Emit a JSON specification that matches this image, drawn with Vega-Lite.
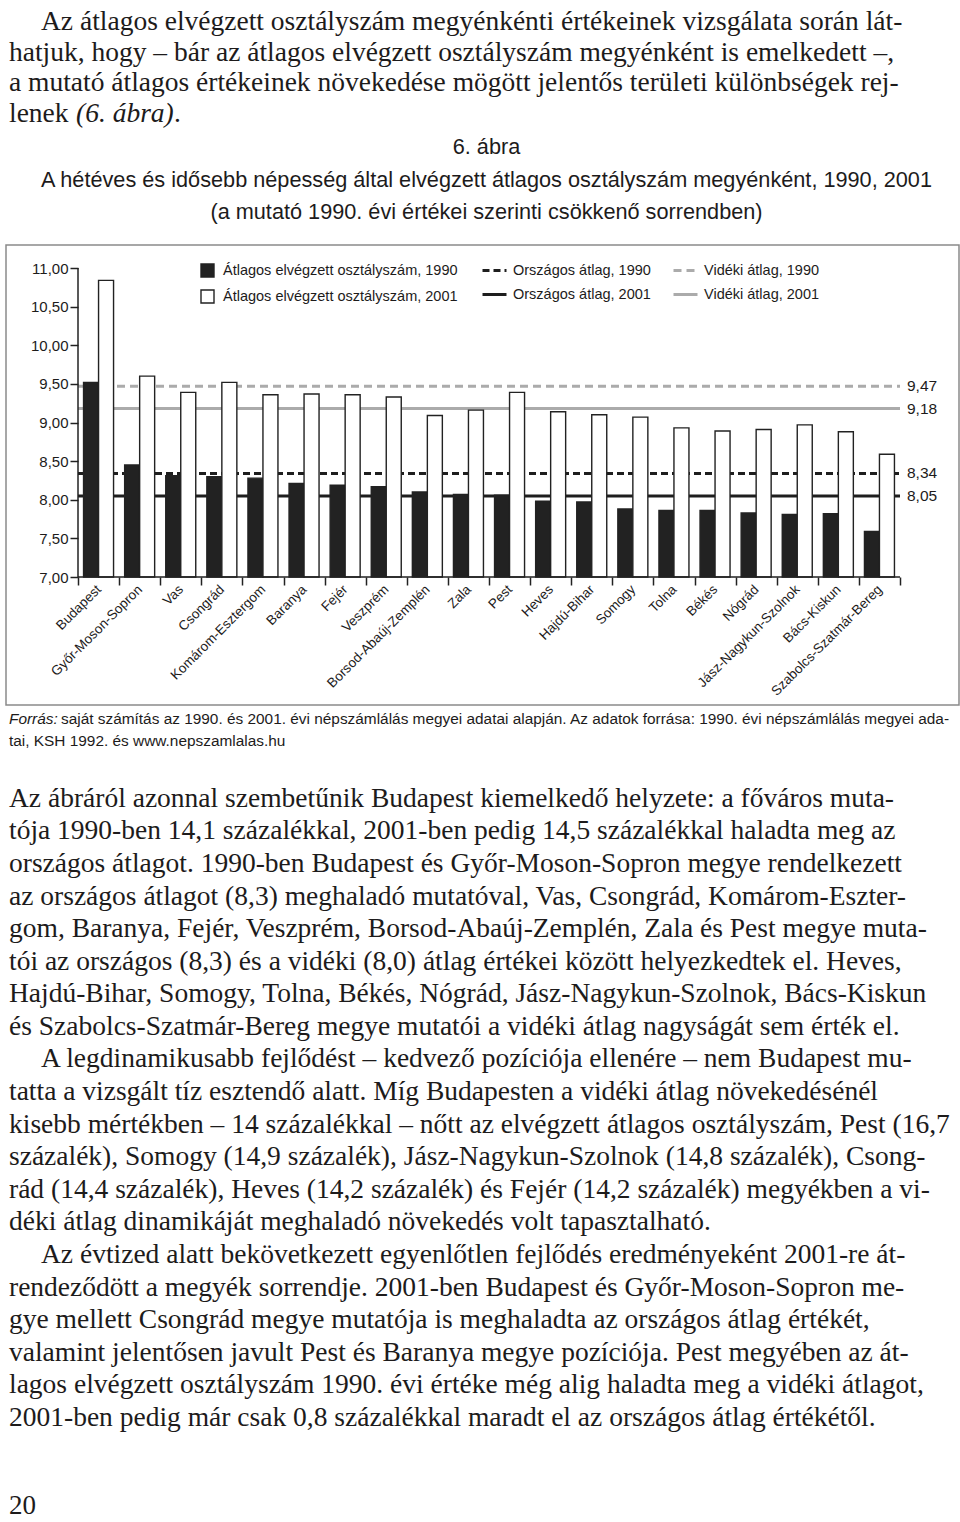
{
  "$schema": "https://vega.github.io/schema/vega-lite/v6.json",
  "padding": {"left": 0, "top": 0, "right": 0, "bottom": 0},
  "bounds": "flush",
  "spacing": 0,
  "config": {
    "view": {"stroke": null},
    "locale": {"number": {"decimal": ",", "thousands": " ", "grouping": [3], "currency": ["", ""]}},
    "font": "Liberation Sans"
  },
  "vconcat": [
    {
      "width": 953,
      "height": 130,
      "data": {"values": [
        {"sor": 1, "resz": "behuzott", "szoveg": "Az átlagos elvégzett osztályszám megyénkénti értékeinek vizsgálata során lát-"},
        {"sor": 2, "resz": "sima", "szoveg": "hatjuk, hogy – bár az átlagos elvégzett osztályszám megyénként is emelkedett –,"},
        {"sor": 3, "resz": "sima", "szoveg": "a mutató átlagos értékeinek növekedése mögött jelentős területi különbségek rej-"},
        {"sor": 4, "resz": "sima", "szoveg": "lenek"},
        {"sor": 4, "resz": "dolt", "szoveg": "(6. ábra)"},
        {"sor": 4, "resz": "vege", "szoveg": "."}
      ]},
      "encoding": {
        "y": {"field": "sor", "type": "quantitative", "scale": {"domain": [0.02, 4.268], "reverse": true, "nice": false, "zero": false}, "axis": null},
        "text": {"field": "szoveg"}
      },
      "layer": [
        {"transform": [{"filter": "datum.resz === 'behuzott'"}], "mark": {"type": "text", "align": "left", "baseline": "alphabetic", "x": 0, "dx": 35, "font": "Liberation Serif", "fontSize": 27.5, "color": "#1d1b1b"}},
        {"transform": [{"filter": "datum.resz === 'sima'"}], "mark": {"type": "text", "align": "left", "baseline": "alphabetic", "x": 0, "dx": 3, "font": "Liberation Serif", "fontSize": 27.5, "color": "#1d1b1b"}},
        {"transform": [{"filter": "datum.resz === 'dolt'"}], "mark": {"type": "text", "align": "left", "baseline": "alphabetic", "x": 0, "dx": 70, "font": "Liberation Serif", "fontStyle": "italic", "fontSize": 27.5, "color": "#1d1b1b"}},
        {"transform": [{"filter": "datum.resz === 'vege'"}], "mark": {"type": "text", "align": "left", "baseline": "alphabetic", "x": 0, "dx": 168, "font": "Liberation Serif", "fontSize": 27.5, "color": "#1d1b1b"}}
      ]
    },
    {
      "width": 953,
      "height": 115,
      "data": {"values": [
        {"sor": 1, "szoveg": "6. ábra"},
        {"sor": 2, "szoveg": "A hétéves és idősebb népesség által elvégzett átlagos osztályszám megyénként, 1990, 2001"},
        {"sor": 3, "szoveg": "(a mutató 1990. évi értékei szerinti csökkenő sorrendben)"}
      ]},
      "mark": {"type": "text", "align": "center", "baseline": "alphabetic", "x": {"expr": "width/2 + 4"}, "fontSize": 21.7, "color": "#1d1b1b"},
      "encoding": {
        "y": {"field": "sor", "type": "quantitative", "scale": {"domain": [0.2615, 3.8], "reverse": true, "nice": false, "zero": false}, "axis": null},
        "text": {"field": "szoveg"}
      }
    },
    {
      "width": 953,
      "height": 460,
      "view": {"stroke": "#8a8a8a", "strokeWidth": 1.5},
      "layer": [
        {
          "data": {"values": [
            {"sorozat": "Országos átlag, 1990", "ertek": 8.34},
            {"sorozat": "Vidéki átlag, 1990", "ertek": 9.47},
            {"sorozat": "Országos átlag, 2001", "ertek": 8.05},
            {"sorozat": "Vidéki átlag, 2001", "ertek": 9.18}
          ]},
          "mark": {"type": "rule", "strokeWidth": 3},
          "encoding": {
            "y": {"field": "ertek", "type": "quantitative"},
            "x": {"datum": "Budapest", "type": "nominal", "bandPosition": 0},
            "x2": {"datum": "Szabolcs-Szatmár-Bereg", "bandPosition": 1},
            "color": {
              "field": "sorozat", "type": "nominal",
              "scale": {"domain": ["Országos átlag, 1990", "Országos átlag, 2001", "Vidéki átlag, 1990", "Vidéki átlag, 2001"], "range": ["#1e1e1e", "#1e1e1e", "#ababab", "#ababab"]},
              "legend": {"orient": "none", "legendX": 475, "legendY": 257, "columns": 2, "title": null, "symbolType": "stroke", "symbolSize": 576, "symbolStrokeWidth": 3, "labelFontSize": 14.5, "labelColor": "#1d1b1b", "labelLimit": 400, "columnPadding": 16, "rowPadding": 4, "labelOffset": 5, "padding": 0}
            },
            "strokeDash": {
              "field": "sorozat", "type": "nominal",
              "scale": {"domain": ["Országos átlag, 1990", "Országos átlag, 2001", "Vidéki átlag, 1990", "Vidéki átlag, 2001"], "range": [[7, 4], [1, 0], [8, 5], [1, 0]]},
              "legend": {"orient": "none", "legendX": 475, "legendY": 257, "columns": 2, "title": null, "symbolType": "stroke", "symbolSize": 576, "symbolStrokeWidth": 3, "labelFontSize": 14.5, "labelColor": "#1d1b1b", "labelLimit": 400, "columnPadding": 16, "rowPadding": 4, "labelOffset": 5, "padding": 0}
            }
          }
        },
        {
          "data": {"values": [
            {"megye": "Budapest", "Átlagos elvégzett osztályszám, 1990": 9.52, "Átlagos elvégzett osztályszám, 2001": 10.84},
            {"megye": "Győr-Moson-Sopron", "Átlagos elvégzett osztályszám, 1990": 8.45, "Átlagos elvégzett osztályszám, 2001": 9.60},
            {"megye": "Vas", "Átlagos elvégzett osztályszám, 1990": 8.31, "Átlagos elvégzett osztályszám, 2001": 9.39},
            {"megye": "Csongrád", "Átlagos elvégzett osztályszám, 1990": 8.30, "Átlagos elvégzett osztályszám, 2001": 9.52},
            {"megye": "Komárom-Esztergom", "Átlagos elvégzett osztályszám, 1990": 8.28, "Átlagos elvégzett osztályszám, 2001": 9.36},
            {"megye": "Baranya", "Átlagos elvégzett osztályszám, 1990": 8.21, "Átlagos elvégzett osztályszám, 2001": 9.37},
            {"megye": "Fejér", "Átlagos elvégzett osztályszám, 1990": 8.19, "Átlagos elvégzett osztályszám, 2001": 9.36},
            {"megye": "Veszprém", "Átlagos elvégzett osztályszám, 1990": 8.17, "Átlagos elvégzett osztályszám, 2001": 9.33},
            {"megye": "Borsod-Abaúj-Zemplén", "Átlagos elvégzett osztályszám, 1990": 8.10, "Átlagos elvégzett osztályszám, 2001": 9.09},
            {"megye": "Zala", "Átlagos elvégzett osztályszám, 1990": 8.07, "Átlagos elvégzett osztályszám, 2001": 9.16},
            {"megye": "Pest", "Átlagos elvégzett osztályszám, 1990": 8.06, "Átlagos elvégzett osztályszám, 2001": 9.39},
            {"megye": "Heves", "Átlagos elvégzett osztályszám, 1990": 7.98, "Átlagos elvégzett osztályszám, 2001": 9.14},
            {"megye": "Hajdú-Bihar", "Átlagos elvégzett osztályszám, 1990": 7.97, "Átlagos elvégzett osztályszám, 2001": 9.10},
            {"megye": "Somogy", "Átlagos elvégzett osztályszám, 1990": 7.88, "Átlagos elvégzett osztályszám, 2001": 9.07},
            {"megye": "Tolna", "Átlagos elvégzett osztályszám, 1990": 7.86, "Átlagos elvégzett osztályszám, 2001": 8.93},
            {"megye": "Békés", "Átlagos elvégzett osztályszám, 1990": 7.86, "Átlagos elvégzett osztályszám, 2001": 8.89},
            {"megye": "Nógrád", "Átlagos elvégzett osztályszám, 1990": 7.83, "Átlagos elvégzett osztályszám, 2001": 8.91},
            {"megye": "Jász-Nagykun-Szolnok", "Átlagos elvégzett osztályszám, 1990": 7.81, "Átlagos elvégzett osztályszám, 2001": 8.97},
            {"megye": "Bács-Kiskun", "Átlagos elvégzett osztályszám, 1990": 7.82, "Átlagos elvégzett osztályszám, 2001": 8.88},
            {"megye": "Szabolcs-Szatmár-Bereg", "Átlagos elvégzett osztályszám, 1990": 7.59, "Átlagos elvégzett osztályszám, 2001": 8.59}
          ]},
          "transform": [{"fold": ["Átlagos elvégzett osztályszám, 1990", "Átlagos elvégzett osztályszám, 2001"], "as": ["sorozat", "ertek"]}],
          "mark": {"type": "bar", "stroke": "#222222", "strokeWidth": 1.4},
          "encoding": {
            "x": {
              "field": "megye", "type": "nominal",
              "scale": {"domain": ["Budapest", "Győr-Moson-Sopron", "Vas", "Csongrád", "Komárom-Esztergom", "Baranya", "Fejér", "Veszprém", "Borsod-Abaúj-Zemplén", "Zala", "Pest", "Heves", "Hajdú-Bihar", "Somogy", "Tolna", "Békés", "Nógrád", "Jász-Nagykun-Szolnok", "Bács-Kiskun", "Szabolcs-Szatmár-Bereg"], "range": [72, 894], "paddingInner": 0, "paddingOuter": 0},
              "axis": {"orient": "bottom", "offset": -128, "domain": false, "tickBand": "extent", "tickSize": 8, "tickWidth": 1.5, "tickColor": "#222222", "labelAngle": -45, "labelFontSize": 13.5, "labelColor": "#1d1b1b", "labelPadding": 2, "title": null, "labelOverlap": false, "labelBound": false}
            },
            "xOffset": {"field": "sorozat", "type": "nominal", "scale": {"domain": ["Átlagos elvégzett osztályszám, 1990", "Átlagos elvégzett osztályszám, 2001"], "paddingInner": 0, "paddingOuter": 0.37}},
            "y": {
              "field": "ertek", "type": "quantitative",
              "scale": {"domain": [5.343, 11.298], "nice": false, "zero": false},
              "axis": {"values": [7, 7.5, 8, 8.5, 9, 9.5, 10, 10.5, 11], "format": ".2f", "offset": -72, "domain": false, "grid": false, "tickSize": 8, "tickWidth": 1.5, "tickColor": "#222222", "labelFontSize": 15, "labelColor": "#1d1b1b", "labelPadding": 2, "title": null}
            },
            "y2": {"datum": 7},
            "fill": {
              "field": "sorozat", "type": "nominal",
              "scale": {"domain": ["Átlagos elvégzett osztályszám, 1990", "Átlagos elvégzett osztályszám, 2001"], "range": ["#222222", "#ffffff"]},
              "legend": {"orient": "none", "legendX": 194, "legendY": 263, "title": null, "symbolType": "square", "symbolSize": 169, "symbolStrokeColor": "#222222", "symbolStrokeWidth": 1.4, "labelFontSize": 14.5, "labelColor": "#1d1b1b", "labelLimit": 400, "rowPadding": 7, "labelOffset": 8, "padding": 0}
            }
          }
        },
        {
          "data": {"values": [{}]},
          "mark": {"type": "rule", "strokeWidth": 1.5, "color": "#222222"},
          "encoding": {
            "x": {"datum": "Budapest", "type": "nominal", "bandPosition": 0},
            "y": {"datum": 7},
            "y2": {"datum": 11}
          }
        },
        {
          "data": {"values": [{}]},
          "mark": {"type": "rule", "strokeWidth": 1.5, "color": "#222222"},
          "encoding": {
            "y": {"datum": 7},
            "x": {"datum": "Budapest", "type": "nominal", "bandPosition": 0},
            "x2": {"datum": "Szabolcs-Szatmár-Bereg", "bandPosition": 1}
          }
        },
        {
          "data": {"values": [
            {"ertek": 9.47}, {"ertek": 9.18}, {"ertek": 8.34}, {"ertek": 8.05}
          ]},
          "mark": {"type": "text", "align": "left", "baseline": "middle", "dx": 7, "fontSize": 15.5, "color": "#1d1b1b"},
          "encoding": {
            "x": {"datum": "Szabolcs-Szatmár-Bereg", "type": "nominal", "bandPosition": 1},
            "y": {"field": "ertek", "type": "quantitative"},
            "text": {"field": "ertek", "type": "quantitative", "format": ".2f"}
          }
        }
      ]
    },
    {
      "width": 953,
      "height": 50,
      "data": {"values": [
        {"sor": 1, "resz": "cimke", "szoveg": "Forrás:"},
        {"sor": 1, "resz": "folytatas", "szoveg": "saját számítás az 1990. és 2001. évi népszámlálás megyei adatai alapján. Az adatok forrása: 1990. évi népszámlálás megyei ada-"},
        {"sor": 2, "resz": "sima", "szoveg": "tai, KSH 1992. és www.nepszamlalas.hu"}
      ]},
      "encoding": {
        "y": {"field": "sor", "type": "quantitative", "scale": {"domain": [0.136, 2.409], "reverse": true, "nice": false, "zero": false}, "axis": null},
        "text": {"field": "szoveg"}
      },
      "layer": [
        {"transform": [{"filter": "datum.resz === 'cimke'"}], "mark": {"type": "text", "align": "left", "baseline": "alphabetic", "x": 0, "dx": 3, "fontSize": 15.4, "fontStyle": "italic", "color": "#1d1b1b"}},
        {"transform": [{"filter": "datum.resz === 'folytatas'"}], "mark": {"type": "text", "align": "left", "baseline": "alphabetic", "x": 0, "dx": 55, "fontSize": 15.4, "color": "#1d1b1b"}},
        {"transform": [{"filter": "datum.resz === 'sima'"}], "mark": {"type": "text", "align": "left", "baseline": "alphabetic", "x": 0, "dx": 3, "fontSize": 15.4, "color": "#1d1b1b"}}
      ]
    },
    {
      "width": 953,
      "height": 690,
      "data": {"values": [
        {"sor": 1, "behuz": false, "szoveg": "Az ábráról azonnal szembetűnik Budapest kiemelkedő helyzete: a főváros muta-"},
        {"sor": 2, "behuz": false, "szoveg": "tója 1990-ben 14,1 százalékkal, 2001-ben pedig 14,5 százalékkal haladta meg az"},
        {"sor": 3, "behuz": false, "szoveg": "országos átlagot. 1990-ben Budapest és Győr-Moson-Sopron megye rendelkezett"},
        {"sor": 4, "behuz": false, "szoveg": "az országos átlagot (8,3) meghaladó mutatóval, Vas, Csongrád, Komárom-Eszter-"},
        {"sor": 5, "behuz": false, "szoveg": "gom, Baranya, Fejér, Veszprém, Borsod-Abaúj-Zemplén, Zala és Pest megye muta-"},
        {"sor": 6, "behuz": false, "szoveg": "tói az országos (8,3) és a vidéki (8,0) átlag értékei között helyezkedtek el. Heves,"},
        {"sor": 7, "behuz": false, "szoveg": "Hajdú-Bihar, Somogy, Tolna, Békés, Nógrád, Jász-Nagykun-Szolnok, Bács-Kiskun"},
        {"sor": 8, "behuz": false, "szoveg": "és Szabolcs-Szatmár-Bereg megye mutatói a vidéki átlag nagyságát sem érték el."},
        {"sor": 9, "behuz": true, "szoveg": "A legdinamikusabb fejlődést – kedvező pozíciója ellenére – nem Budapest mu-"},
        {"sor": 10, "behuz": false, "szoveg": "tatta a vizsgált tíz esztendő alatt. Míg Budapesten a vidéki átlag növekedésénél"},
        {"sor": 11, "behuz": false, "szoveg": "kisebb mértékben – 14 százalékkal – nőtt az elvégzett átlagos osztályszám, Pest (16,7"},
        {"sor": 12, "behuz": false, "szoveg": "százalék), Somogy (14,9 százalék), Jász-Nagykun-Szolnok (14,8 százalék), Csong-"},
        {"sor": 13, "behuz": false, "szoveg": "rád (14,4 százalék), Heves (14,2 százalék) és Fejér (14,2 százalék) megyékben a vi-"},
        {"sor": 14, "behuz": false, "szoveg": "déki átlag dinamikáját meghaladó növekedés volt tapasztalható."},
        {"sor": 15, "behuz": true, "szoveg": "Az évtized alatt bekövetkezett egyenlőtlen fejlődés eredményeként 2001-re át-"},
        {"sor": 16, "behuz": false, "szoveg": "rendeződött a megyék sorrendje. 2001-ben Budapest és Győr-Moson-Sopron me-"},
        {"sor": 17, "behuz": false, "szoveg": "gye mellett Csongrád megye mutatója is meghaladta az országos átlag értékét,"},
        {"sor": 18, "behuz": false, "szoveg": "valamint jelentősen javult Pest és Baranya megye pozíciója. Pest megyében az át-"},
        {"sor": 19, "behuz": false, "szoveg": "lagos elvégzett osztályszám 1990. évi értéke még alig haladta meg a vidéki átlagot,"},
        {"sor": 20, "behuz": false, "szoveg": "2001-ben pedig már csak 0,8 százalékkal maradt el az országos átlag értékétől."}
      ]},
      "encoding": {
        "y": {"field": "sor", "type": "quantitative", "scale": {"domain": [-0.586, 20.58], "reverse": true, "nice": false, "zero": false}, "axis": null},
        "text": {"field": "szoveg"}
      },
      "layer": [
        {"transform": [{"filter": "datum.behuz"}], "mark": {"type": "text", "align": "left", "baseline": "alphabetic", "x": 0, "dx": 35, "font": "Liberation Serif", "fontSize": 27.5, "color": "#1d1b1b"}},
        {"transform": [{"filter": "!datum.behuz"}], "mark": {"type": "text", "align": "left", "baseline": "alphabetic", "x": 0, "dx": 3, "font": "Liberation Serif", "fontSize": 27.5, "color": "#1d1b1b"}}
      ]
    },
    {
      "width": 953,
      "height": 77,
      "data": {"values": [{"sor": 1, "szoveg": "20"}]},
      "mark": {"type": "text", "align": "left", "baseline": "alphabetic", "x": 0, "dx": 3, "font": "Liberation Serif", "fontSize": 27, "color": "#1d1b1b"},
      "encoding": {
        "y": {"field": "sor", "type": "quantitative", "scale": {"domain": [0.104, 1.104], "reverse": true, "nice": false, "zero": false}, "axis": null},
        "text": {"field": "szoveg"}
      }
    }
  ]
}
